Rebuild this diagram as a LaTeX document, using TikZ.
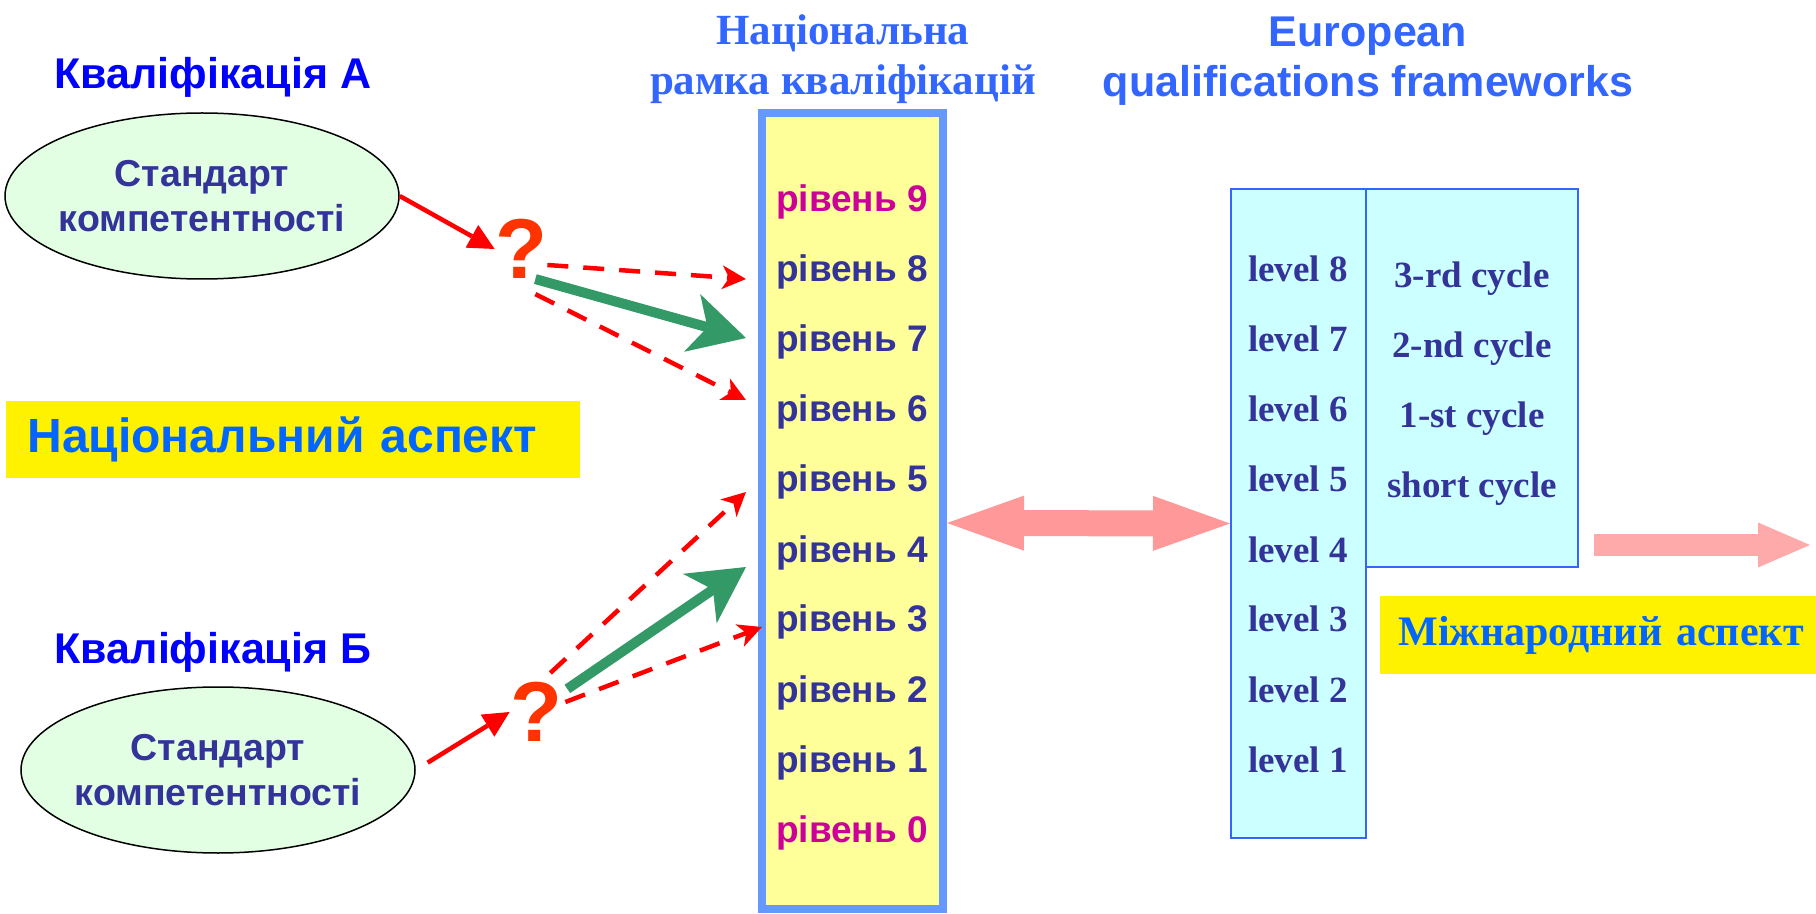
\documentclass[tikz,border=0pt]{standalone}
\usepackage{fontspec}
\setmainfont{Liberation Serif}
\setsansfont{Liberation Sans}
\usetikzlibrary{arrows.meta,shapes.geometric}
\definecolor{kvblue}{HTML}{0000FF}
\definecolor{navy}{HTML}{333399}
\definecolor{mint}{HTML}{E3FFE3}
\definecolor{qorange}{HTML}{FF3300}
\definecolor{seagreen}{HTML}{339966}
\definecolor{frameblue}{HTML}{6699FF}
\definecolor{paleyellow}{HTML}{FFFF99}
\definecolor{magentared}{HTML}{CC0099}
\definecolor{titleblue}{HTML}{3366FF}
\definecolor{aspblue}{HTML}{0066FF}
\definecolor{palecyan}{HTML}{CCFFFF}
\definecolor{pinkA}{HTML}{FF9999}
\definecolor{pinkB}{HTML}{FFAAAA}
\begin{document}
\begin{tikzpicture}[x=0.5pt,y=-0.5pt,
  kval/.style={font=\sffamily\bfseries\fontsize{21.5}{26}\selectfont, text=kvblue, anchor=base},
  std/.style={ellipse, draw, line width=0.75pt, fill=mint, text=navy, align=center, inner xsep=-2pt, inner ysep=0pt,
    minimum width=197pt, minimum height=83pt, font=\sffamily\bfseries\fontsize{18.75}{22.5}\selectfont},
  quest/.style={font=\sffamily\bfseries\fontsize{42.5}{50}\selectfont, text=qorange, inner sep=0pt},
  redarr/.style={red, line width=2.25pt, -{Triangle[length=13pt,width=13pt,line width=0pt]}},
  dasharr/.style={red, line width=2.25pt, dash pattern=on 10.5pt off 7.5pt,
    -{Stealth[length=12pt,width=12pt,inset=3.5pt,line width=0pt]}},
  greenarr/.style={seagreen, line width=5pt, -{Stealth[length=28pt,width=30pt,inset=8pt,line width=0pt]}},
  riv/.style={font=\sffamily\bfseries\fontsize{18.5}{22}\selectfont, text=navy, anchor=base},
  lev/.style={font=\rmfamily\bfseries\fontsize{18.5}{22}\selectfont, text=navy, anchor=base},
  eqbox/.style={draw=titleblue, line width=1pt, fill=palecyan, inner sep=0pt},
  heading/.style={text=titleblue, align=center, anchor=north, inner sep=0pt},
  aspect/.style={fill=yellow, text=aspblue, anchor=north west, align=left}]
\useasboundingbox (0,0) rectangle (1816,914);
\node[kval] (kA) at (213,89) {Кваліфікація А};
\node[std] (eA) at (202,196) {Стандарт\\компетентності};
\node[quest] (qA) at (521,249) {?};
\node[kval] (kB) at (213,663) {Кваліфікація Б};
\node[std] (eB) at (218,770) {Стандарт\\компетентності};
\node[quest] (qB) at (536,712) {?};
\node[aspect, text width=266pt, inner xsep=10.5pt, minimum height=38.5pt,
  font=\sffamily\bfseries\fontsize{24}{28}\selectfont] (natasp) at (6,401) {Національний аспект};
\node[draw=frameblue, line width=4pt, fill=paleyellow, inner sep=0pt,
  minimum width=90.5pt, minimum height=398pt] (nqf) at (852.5,511) {};
\node[heading, font=\rmfamily\bfseries\fontsize{21.5}{25}\selectfont] (nqftitle) at (843,14)
  {Національна\\рамка кваліфікацій};
\node[riv, text=magentared] (r9) at (852,212) {рівень 9};
\node[riv] (r8) at (852,282) {рівень 8};
\node[riv] (r7) at (852,352) {рівень 7};
\node[riv] (r6) at (852,422) {рівень 6};
\node[riv] (r5) at (852,492) {рівень 5};
\node[riv] (r4) at (852,562) {рівень 4};
\node[riv] (r3) at (852,632) {рівень 3};
\node[riv] (r2) at (852,702) {рівень 2};
\node[riv] (r1) at (852,772) {рівень 1};
\node[riv, text=magentared] (r0) at (852,842) {рівень 0};
\node[eqbox, minimum width=106pt, minimum height=189pt] (cyc) at (1472,378) {};
\node[eqbox, minimum width=67.5pt, minimum height=324.5pt] (eqf) at (1298.5,513.5) {};
\node[heading, font=\sffamily\bfseries\fontsize{21.5}{25}\selectfont] (eqftitle) at (1368,17)
  {European\\qualifications frameworks};
\node[lev] (l8) at (1298,282) {level 8};
\node[lev] (l7) at (1298,352) {level 7};
\node[lev] (l6) at (1298,422) {level 6};
\node[lev] (l5) at (1298,492) {level 5};
\node[lev] (l4) at (1298,562) {level 4};
\node[lev] (l3) at (1298,632) {level 3};
\node[lev] (l2) at (1298,702) {level 2};
\node[lev] (l1) at (1298,772) {level 1};
\node[lev] (c3) at (1472,288) {3-rd cycle};
\node[lev] (c2) at (1472,358) {2-nd cycle};
\node[lev] (c1) at (1472,428) {1-st cycle};
\node[lev] (cs) at (1472,498) {short cycle};
\node[aspect, text width=210pt, inner xsep=9pt, minimum height=39pt,
  font=\rmfamily\bfseries\fontsize{21}{25}\selectfont] (intasp) at (1380,596) {Міжнародний аспект};
\coordinate (to8) at (746,279);
\coordinate (to7) at (746,338);
\coordinate (to6) at (746,400);
\coordinate (to5) at (746,492);
\coordinate (to4) at (746,567);
\coordinate (to3) at (762,627);
\coordinate (outS) at (1594,545);
\coordinate (outE) at (1810,545);
\draw[redarr] (eA.east) -- (qA.west);
\draw[redarr, shorten <=7pt] (eB.east) -- (qB.west);
\draw[dasharr] ([yshift=-8pt]qA.east) -- (to8);
\draw[greenarr] ([xshift=-6pt]qA.south east) -- (to7);
\draw[dasharr] ([shift={(-12,15)}]qA.south east) -- (to6);
\draw[dasharr] ([shift={(-12,-9)}]qB.north east) -- (to5);
\draw[greenarr] ([shift={(5,7)}]qB.north east) -- (to4);
\draw[dasharr] ([shift={(3,-10)}]qB.east) -- (to3);
\draw[pinkA, line width=13pt, {Triangle[length=38.5pt,width=27.5pt,line width=0pt]}-{Triangle[length=38.5pt,width=27.5pt,line width=0pt]}]
  ([yshift=-6pt]nqf.east) -- ([yshift=-5pt]eqf.west);
\draw[pinkB, line width=11pt, -{Triangle[length=26pt,width=22.5pt,line width=0pt]}] (outS) -- (outE);
\end{tikzpicture}
\end{document}
